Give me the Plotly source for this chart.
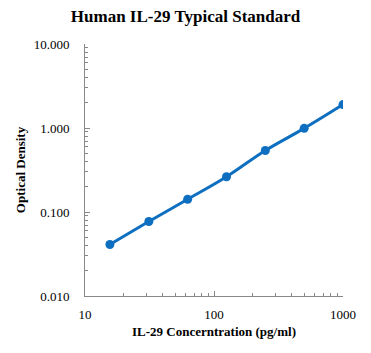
import plotly.graph_objects as go

concentration = [15.6, 31.25, 62.5, 125, 250, 500, 1000]
optical_density = [0.041, 0.077, 0.142, 0.263, 0.54, 0.99, 1.9]
x_ticks = [10, 100, 1000]
y_ticks = [0.01, 0.1, 1, 10]
y_tick_labels = ["0.010", "0.100", "1.000", "10.000"]

font_family = "Liberation Serif, Times New Roman, serif"
blue = "#0E6FC1"


def minor_vals(decades):
    return [m * d for d in decades[:-1] for m in range(2, 10)]


fig = go.Figure()
fig.add_trace(go.Scatter(
    x=concentration, y=optical_density, mode="lines+markers",
    line=dict(color=blue, width=3, shape="spline"),
    marker=dict(color=blue, size=9),
    showlegend=False,
))

axis_common = dict(
    showgrid=False, zeroline=False, showline=True, linecolor="#888888", linewidth=1,
    ticks="inside", ticklen=5, tickcolor="#888888",
    tickfont=dict(family=font_family, size=13, color="#000000"),
)

fig.update_layout(
    width=371, height=353,
    margin=dict(l=85, r=28, t=44, b=57),
    paper_bgcolor="white", plot_bgcolor="white",
    title=dict(text="<b>Human IL-29 Typical Standard</b>", x=0.5, xanchor="center",
               y=0.955, yanchor="middle",
               font=dict(family=font_family, size=17, color="#000000")),
    xaxis=dict(type="log", range=[1, 3], tickvals=x_ticks, ticktext=[str(v) for v in x_ticks],
               ticklabelstandoff=6,
               minor=dict(tickvals=minor_vals(x_ticks), ticks="inside", ticklen=3,
                          tickcolor="#888888", showgrid=False),
               title=dict(text="<b>IL-29 Concerntration (pg/ml)</b>", standoff=6,
                          font=dict(family=font_family, size=13, color="#000000")),
               **axis_common),
    yaxis=dict(type="log", range=[-2, 1], tickvals=y_ticks, ticktext=y_tick_labels,
               ticklabelstandoff=12,
               minor=dict(tickvals=minor_vals(y_ticks), ticks="inside", ticklen=3,
                          tickcolor="#888888", showgrid=False),
               title=dict(text="<b>Optical Density</b>", standoff=5,
                          font=dict(family=font_family, size=13, color="#000000")),
               **axis_common),
)

fig.write_html("out.html")
